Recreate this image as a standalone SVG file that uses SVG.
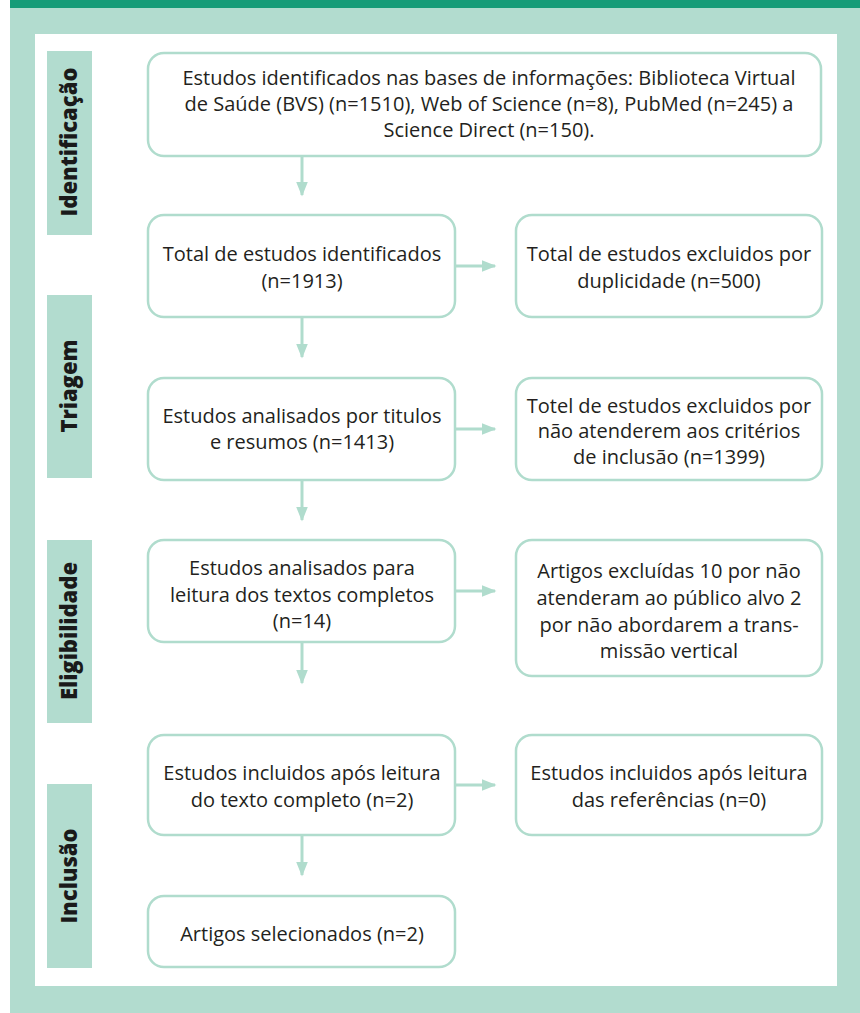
<svg xmlns="http://www.w3.org/2000/svg" width="860" height="1013" viewBox="0 0 860 1013">
<defs>
<style>
.box{fill:#fff;stroke:#b0dccd;stroke-width:2.5}
.lab{fill:#b2dccf}
.t{font-family:"Open Sans",Lato,sans-serif;font-size:20px;fill:#231f20;text-anchor:middle}
.s{font-family:"Open Sans",Lato,sans-serif;font-size:22px;font-weight:800;fill:#1a1a1a;text-anchor:middle}
.c{stroke:#b0dccd;stroke-width:3;fill:none}
</style>
<marker id="ah" markerWidth="5" markerHeight="4" refX="4.5" refY="2" orient="auto" markerUnits="strokeWidth"><path d="M0,0 L5,2 L0,4 z" fill="#b0dccd"/></marker>
</defs>
<rect x="0" y="0" width="860" height="1013" fill="#fff"/>
<rect x="10" y="8" width="850" height="1005" fill="#b2dccf"/>
<rect x="10" y="0" width="850" height="8" fill="#169c78"/>
<rect x="35" y="34" width="802" height="952" fill="#fff"/>

<g id="label-identificacao"><rect class="lab" x="47" y="51" width="45" height="184"/><text class="s" transform="translate(77,142) rotate(-90)">Identificação</text></g>
<g id="label-triagem"><rect class="lab" x="47" y="295" width="45" height="183"/><text class="s" transform="translate(77,386) rotate(-90)">Triagem</text></g>
<g id="label-elegibilidade"><rect class="lab" x="47" y="540" width="45" height="183"/><text class="s" transform="translate(77,631) rotate(-90)">Eligibilidade</text></g>
<g id="label-inclusao"><rect class="lab" x="47" y="784" width="45" height="184"/><text class="s" transform="translate(77,876) rotate(-90)">Inclusão</text></g>

<g id="connectors">
<line class="c" x1="302" y1="157" x2="302" y2="195" marker-end="url(#ah)"/>
<line class="c" x1="302" y1="318" x2="302" y2="357" marker-end="url(#ah)"/>
<line class="c" x1="302" y1="481" x2="302" y2="520" marker-end="url(#ah)"/>
<line class="c" x1="302" y1="643" x2="302" y2="683" marker-end="url(#ah)"/>
<line class="c" x1="302" y1="836" x2="302" y2="875" marker-end="url(#ah)"/>
<line class="c" x1="456" y1="266" x2="495" y2="266" marker-end="url(#ah)"/>
<line class="c" x1="456" y1="429" x2="495" y2="429" marker-end="url(#ah)"/>
<line class="c" x1="456" y1="591" x2="495" y2="591" marker-end="url(#ah)"/>
<line class="c" x1="456" y1="785" x2="495" y2="785" marker-end="url(#ah)"/>
</g>

<g id="n1"><rect class="box" x="148" y="53" width="673" height="103" rx="16"/>
<text class="t" x="489"><tspan x="489" y="85">Estudos identificados nas bases de informações: Biblioteca Virtual</tspan><tspan x="489" y="111">de Saúde (BVS) (n=1510), Web of Science (n=8), PubMed (n=245) a</tspan><tspan x="489" y="137">Science Direct (n=150).</tspan></text></g>

<g id="n2"><rect class="box" x="148" y="215" width="307" height="102" rx="16"/>
<text class="t"><tspan x="302" y="261">Total de estudos identificados</tspan><tspan x="302" y="288">(n=1913)</tspan></text></g>

<g id="n3"><rect class="box" x="516" y="215" width="306" height="102" rx="16"/>
<text class="t"><tspan x="669" y="261">Total de estudos excluidos por</tspan><tspan x="669" y="288">duplicidade (n=500)</tspan></text></g>

<g id="n4"><rect class="box" x="148" y="378" width="307" height="102" rx="16"/>
<text class="t"><tspan x="302" y="423">Estudos analisados por titulos</tspan><tspan x="302" y="449">e resumos (n=1413)</tspan></text></g>

<g id="n5"><rect class="box" x="516" y="378" width="306" height="102" rx="16"/>
<text class="t"><tspan x="669" y="413">Totel de estudos excluidos por</tspan><tspan x="669" y="438">não atenderem aos critérios</tspan><tspan x="669" y="464">de inclusão (n=1399)</tspan></text></g>

<g id="n6"><rect class="box" x="148" y="540" width="307" height="102" rx="16"/>
<text class="t"><tspan x="302" y="575">Estudos analisados para</tspan><tspan x="302" y="602">leitura dos textos completos</tspan><tspan x="302" y="628">(n=14)</tspan></text></g>

<g id="n7"><rect class="box" x="516" y="540" width="306" height="136" rx="16"/>
<text class="t"><tspan x="669" y="578">Artigos excluídas 10 por não</tspan><tspan x="669" y="605">atenderam ao público alvo 2</tspan><tspan x="669" y="632">por não abordarem a trans-</tspan><tspan x="669" y="658">missão vertical</tspan></text></g>

<g id="n8"><rect class="box" x="148" y="735" width="307" height="100" rx="16"/>
<text class="t"><tspan x="302" y="780">Estudos incluidos após leitura</tspan><tspan x="302" y="807">do texto completo (n=2)</tspan></text></g>

<g id="n9"><rect class="box" x="516" y="735" width="306" height="100" rx="16"/>
<text class="t"><tspan x="669" y="780">Estudos incluidos após leitura</tspan><tspan x="669" y="807">das referências (n=0)</tspan></text></g>

<g id="n10"><rect class="box" x="148" y="896" width="307" height="71" rx="16"/>
<text class="t"><tspan x="302" y="941">Artigos selecionados (n=2)</tspan></text></g>
</svg>
